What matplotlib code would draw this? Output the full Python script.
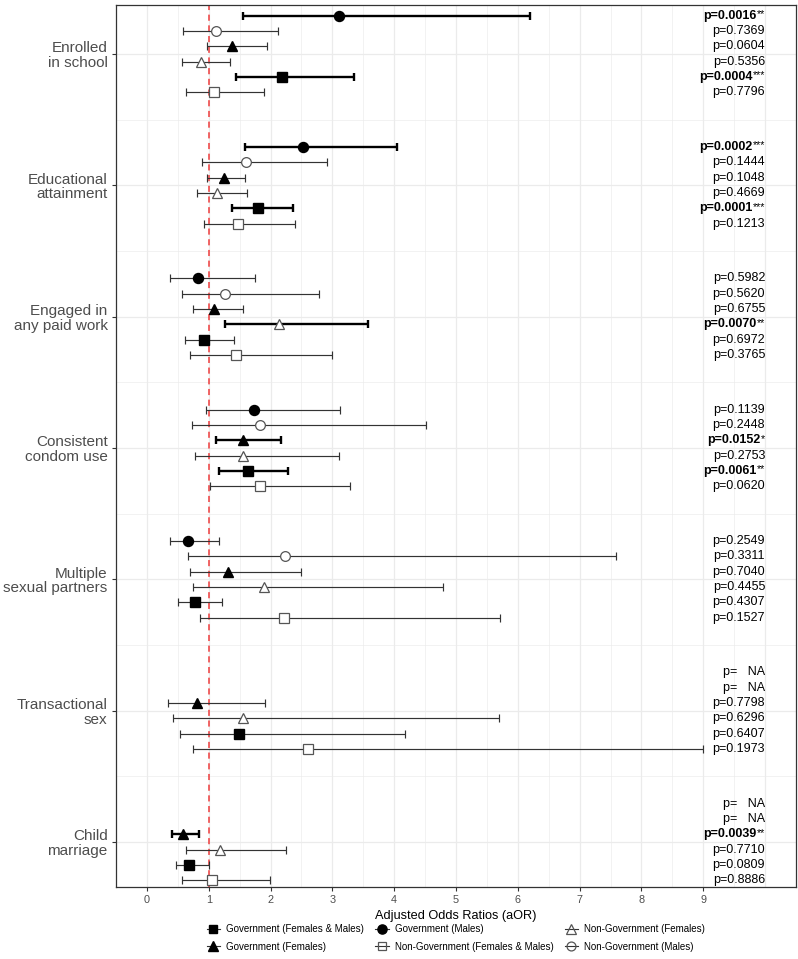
import numpy as np
import matplotlib
matplotlib.use("Agg")
import matplotlib.pyplot as plt
from matplotlib.lines import Line2D

plt.rcParams['font.family'] = ['Liberation Sans', 'DejaVu Sans']

nan = np.nan

# ---------------- data ----------------
categories = ["Enrolled\nin school", "Educational\nattainment", "Engaged in\nany paid work",
              "Consistent\ncondom use", "Multiple\nsexual partners", "Transactional\nsex",
              "Child\nmarriage"]

# groups in plotting order (top to bottom within each category)
groups = ["Government (Males)", "Non-Government (Males)", "Government (Females)",
          "Non-Government (Females)", "Government (Females & Males)",
          "Non-Government (Females & Males)"]

gov_m_or = [3.11, 2.53, 0.82, 1.73, 0.67, nan, nan]
gov_m_lo = [1.56, 1.59, 0.38, 0.96, 0.38, nan, nan]
gov_m_hi = [6.20, 4.04, 1.75, 3.13, 1.17, nan, nan]
gov_m_p = [0.0016, 0.0002, 0.5982, 0.1139, 0.2549, nan, nan]

ngov_m_or = [1.11, 1.61, 1.26, 1.83, 2.23, nan, nan]
ngov_m_lo = [0.58, 0.89, 0.57, 0.73, 0.66, nan, nan]
ngov_m_hi = [2.12, 2.92, 2.79, 4.52, 7.59, nan, nan]
ngov_m_p = [0.7369, 0.1444, 0.5620, 0.2448, 0.3311, nan, nan]

gov_f_or = [1.38, 1.24, 1.08, 1.55, 1.31, 0.81, 0.59]
gov_f_lo = [0.98, 0.97, 0.75, 1.11, 0.69, 0.34, 0.41]
gov_f_hi = [1.94, 1.59, 1.56, 2.17, 2.50, 1.91, 0.84]
gov_f_p = [0.0604, 0.1048, 0.6755, 0.0152, 0.7040, 0.7798, 0.0039]

ngov_f_or = [0.87, 1.13, 2.13, 1.56, 1.89, 1.56, 1.18]
ngov_f_lo = [0.56, 0.81, 1.27, 0.77, 0.75, 0.43, 0.63]
ngov_f_hi = [1.35, 1.62, 3.58, 3.11, 4.79, 5.70, 2.25]
ngov_f_p = [0.5356, 0.4669, 0.0070, 0.2753, 0.4455, 0.6296, 0.7710]

gov_fm_or = [2.19, 1.79, 0.92, 1.64, 0.78, 1.49, 0.68]
gov_fm_lo = [1.44, 1.37, 0.61, 1.17, 0.50, 0.53, 0.47]
gov_fm_hi = [3.35, 2.36, 1.41, 2.29, 1.22, 4.17, 1.00]
gov_fm_p = [0.0004, 0.0001, 0.6972, 0.0061, 0.4307, 0.6407, 0.0809]

ngov_fm_or = [1.08, 1.47, 1.44, 1.83, 2.21, 2.60, 1.05]
ngov_fm_lo = [0.63, 0.92, 0.70, 1.02, 0.86, 0.75, 0.56]
ngov_fm_hi = [1.89, 2.39, 2.99, 3.28, 5.71, 9.00, 1.99]
ngov_fm_p = [0.7796, 0.1213, 0.3765, 0.0620, 0.1527, 0.1973, 0.8886]

x_ticks = [0, 1, 2, 3, 4, 5, 6, 7, 8, 9]

series = [
    (gov_m_or, gov_m_lo, gov_m_hi, gov_m_p),
    (ngov_m_or, ngov_m_lo, ngov_m_hi, ngov_m_p),
    (gov_f_or, gov_f_lo, gov_f_hi, gov_f_p),
    (ngov_f_or, ngov_f_lo, ngov_f_hi, ngov_f_p),
    (gov_fm_or, gov_fm_lo, gov_fm_hi, gov_fm_p),
    (ngov_fm_or, ngov_fm_lo, ngov_fm_hi, ngov_fm_p),
]

# ---------------- styles ----------------
markers = ['o', 'o', '^', '^', 's', 's']
filled = [True, False, True, False, True, False]
msizes = [7.2, 7.0, 7.6, 7.6, 6.6, 6.6]
OPEN_EDGE = '#555555'
THIN = '#333333'

W, H = 798, 959
fig = plt.figure(figsize=(W / 100, H / 100), dpi=100)
ax = fig.add_axes([116 / W, 1 - 887 / H, 680 / W, 882 / H])
ax.set_xlim(-0.5, 10.5)
ax.set_ylim(0.657, 7.373)

# grid
for v in np.arange(0, 10.01, 1.0):
    ax.axvline(v, color='#EBEBEB', lw=0.9, zorder=0)
for v in np.arange(0.5, 10.01, 1.0):
    ax.axvline(v, color='#EBEBEB', lw=0.45, zorder=0)
for v in range(1, 8):
    ax.axhline(v, color='#EBEBEB', lw=0.9, zorder=0)
for v in np.arange(1.5, 7.0, 1.0):
    ax.axhline(v, color='#EBEBEB', lw=0.45, zorder=0)

ax.axvline(1, color='#EE3B3B', ls=(0, (4, 3)), lw=1.1, zorder=1.5)

ncat = len(categories)
dodge = 0.7
step = dodge / 6


def stars(p):
    if p < 0.001:
        return '***'
    if p < 0.01:
        return '**'
    if p < 0.05:
        return '*'
    return ''


for k, (orv, lo, hi, pv) in enumerate(series):
    for i in range(ncat):
        y = (ncat - i) + dodge / 2 - step / 2 - k * step
        p = pv[i]
        if np.isnan(p):
            ax.text(10, y, 'p=   NA', ha='right', va='center', fontsize=9, color='black')
            continue
        sig = p < 0.05
        col = 'black' if sig else THIN
        lw = 1.7 if sig else 0.85
        ax.errorbar([orv[i]], [y], xerr=[[orv[i] - lo[i]], [hi[i] - orv[i]]],
                    fmt='none', ecolor=col, elinewidth=lw, capsize=2.6, capthick=lw, zorder=2)
        if filled[k]:
            ax.plot(orv[i], y, marker=markers[k], ms=msizes[k], color='black',
                    mec='black', ls='none', zorder=3)
        else:
            ax.plot(orv[i], y, marker=markers[k], ms=msizes[k], mfc='white',
                    mec=OPEN_EDGE, mew=0.9, ls='none', zorder=3)
        s = stars(p)
        if s:
            ax.text(10, y + 0.012, s, ha='right', va='center', fontsize=7.8, color='black')
            ax.annotate('p=%.4f' % p, xy=(10, y), xytext=(-len(s) * 3.05, 0),
                        textcoords='offset points', ha='right', va='center',
                        fontsize=9, fontweight='bold', color='black')
        else:
            ax.text(10, y, 'p=%.4f' % p, ha='right', va='center', fontsize=9, color='black')

# axes
ax.set_yticks([ncat - i for i in range(ncat)])
ax.set_yticklabels(categories, fontsize=11.0, color='#4D4D4D', linespacing=1.05)
ax.set_xticks(x_ticks)
ax.set_xticklabels([str(t) for t in x_ticks], fontsize=7.8, color='#4D4D4D')
ax.tick_params(length=3, width=0.8, color='#333333', pad=3)
ax.set_xlabel('Adjusted Odds Ratios (aOR)', fontsize=9.2, color='black', labelpad=3)
for sp in ax.spines.values():
    sp.set_color('#333333')
    sp.set_linewidth(0.9)

# legend (column-major order)
leg_order = [4, 2, 0, 5, 3, 1]
handles = []
for k in leg_order:
    if filled[k]:
        h = Line2D([0], [0], color=THIN, lw=0.8, marker=markers[k], ms=msizes[k] - 0.6,
                   mfc='black', mec='black')
    else:
        h = Line2D([0], [0], color=THIN, lw=0.8, marker=markers[k], ms=msizes[k] - 0.6,
                   mfc='none', mec=OPEN_EDGE, mew=0.9)
    handles.append(h)
fig.legend(handles, [groups[k] for k in leg_order], ncol=3, loc='center',
           bbox_to_anchor=(456 / W, 1 - 938 / H), frameon=False, fontsize=7.0,
           handlelength=1.35, handletextpad=0.65, columnspacing=1.15, labelspacing=0.8)

fig.savefig('out.png', dpi=100)
